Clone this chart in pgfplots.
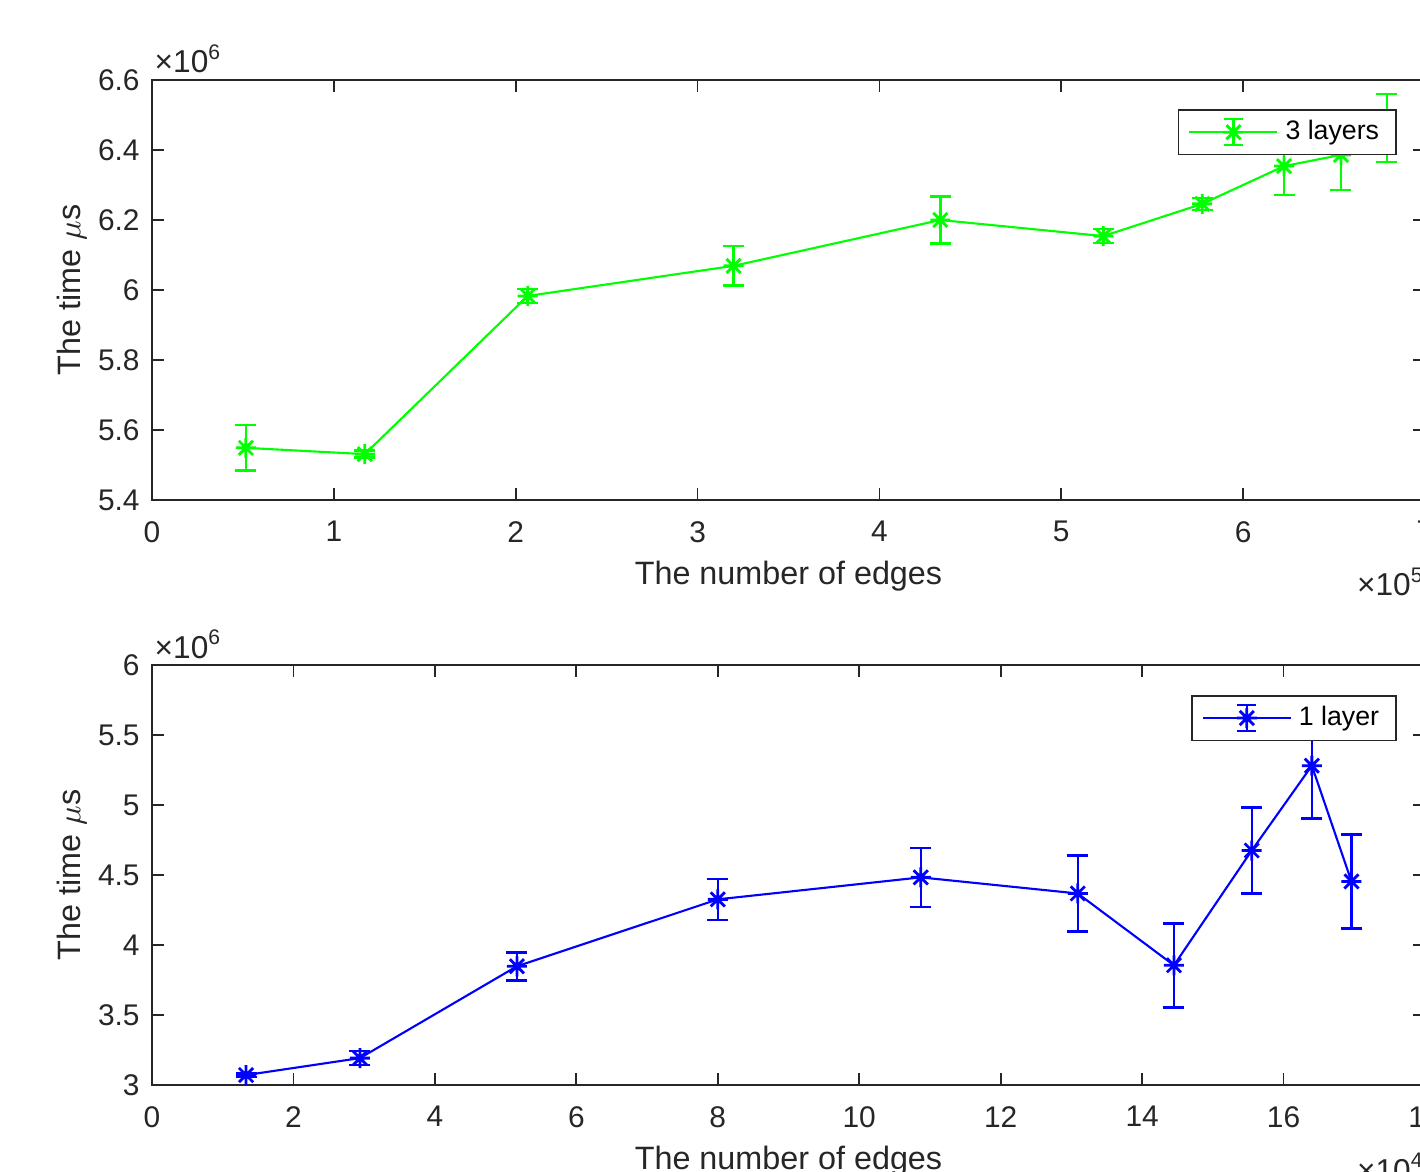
\documentclass[border=0pt]{standalone}
\usepackage{fontspec}
\setmainfont{Liberation Sans}
\usepackage{pgfplots}
\pgfplotsset{compat=1.18}

% matlab style asterisk: eight arms
\pgfdeclareplotmark{mstar}{%
  \pgfpathmoveto{\pgfqpoint{-\pgfplotmarksize}{0pt}}\pgfpathlineto{\pgfqpoint{\pgfplotmarksize}{0pt}}%
  \pgfpathmoveto{\pgfqpoint{0pt}{-\pgfplotmarksize}}\pgfpathlineto{\pgfqpoint{0pt}{\pgfplotmarksize}}%
  \pgfpathmoveto{\pgfqpoint{-0.707\pgfplotmarksize}{-0.707\pgfplotmarksize}}\pgfpathlineto{\pgfqpoint{0.707\pgfplotmarksize}{0.707\pgfplotmarksize}}%
  \pgfpathmoveto{\pgfqpoint{-0.707\pgfplotmarksize}{0.707\pgfplotmarksize}}\pgfpathlineto{\pgfqpoint{0.707\pgfplotmarksize}{-0.707\pgfplotmarksize}}%
  \pgfusepathqstroke}

\definecolor{axgray}{gray}{0.15}

\pgfplotsset{
  mlab/.style={
    scale only axis, width=12.73cm, height=4.20cm,
    axis line style={axgray, line width=0.5pt},
    tick style={axgray, line width=0.5pt},
    tick align=inside, major tick length=1.2mm,
    xtick pos=both, ytick pos=both,
    ticklabel style={font=\fontsize{8.5}{10}\selectfont, text=axgray},
    xticklabel style={yshift=-0.9mm},
    label style={font=\fontsize{9.2}{11}\selectfont, text=axgray},
    xlabel style={yshift=0.6mm},
    ylabel style={at={(axis description cs:-0.063,0.5)}, anchor=center},
    /pgf/number format/assume math mode=true,
    xlabel={The number of edges},
    ylabel={The time $\mu$s},
    every y tick scale label/.style={at={(rel axis cs:0,1)}, anchor=base west, xshift=0.2mm, yshift=0.7mm, inner sep=0pt, font=\fontsize{9}{10}\selectfont, text=axgray},
    every x tick scale label/.style={at={(rel axis cs:1,0)}, anchor=base east, yshift=-8.7mm, inner sep=0pt, font=\fontsize{9}{10}\selectfont, text=axgray},
    legend style={anchor=north east, draw=axgray, line width=0.5pt, fill=white,
      font=\fontsize{7.6}{9}\selectfont, inner xsep=1mm, inner ysep=0.3mm},
    legend cell align=left,
    legend image code/.code={%
      \draw[#1] (0cm,0cm) -- (0.88cm,0cm);
      \draw[#1] (0.44cm,-0.13cm) -- (0.44cm,0.13cm)
        (0.345cm,-0.13cm) -- (0.535cm,-0.13cm) (0.345cm,0.13cm) -- (0.535cm,0.13cm);
      \draw[mark repeat=2, mark phase=2, #1] plot coordinates {(0cm,0cm) (0.44cm,0cm) (0.88cm,0cm)};
    },
    error bars/y dir=both, error bars/y explicit,
    error bars/error mark options={rotate=90, mark size=1.05mm, line width=0.7pt},
    error bars/error bar style={line width=0.7pt},
  },
}

\begin{document}
\begin{tikzpicture}
\useasboundingbox (0,0) rectangle (14.2cm,11.72cm);
\clip (0,0) rectangle (14.2cm,11.72cm);

\begin{axis}[mlab, at={(1.52cm,6.72cm)},
  xmin=0, xmax=700000, ymin=5400000, ymax=6600000,
  xtick={0,100000,...,700000}, ytick={5400000,5600000,...,6600000},
  scaled x ticks=base 10:-5, scaled y ticks=base 10:-6,
  xtick scale label code/.code={×10\textsuperscript{5}},
  ytick scale label code/.code={×10\textsuperscript{6}},
  legend style={at={(rel axis cs:0.978,0.931)}},
]
\addplot[green, line width=0.6pt, mark=mstar, mark size=1mm, mark options={solid, line width=0.8pt}]
  coordinates {
  (51600,5549000) +- (0,65000)
  (117000,5531000) +- (0,10000)
  (206600,5983000) +- (0,20000)
  (319800,6069000) +- (0,56000)
  (433500,6200000) +- (0,67000)
  (523100,6154000) +- (0,20000)
  (577500,6246000) +- (0,17000)
  (622500,6354000) +- (0,83000)
  (653800,6386000) +- (0,100000)
  (679100,6463000) +- (0,97000)
  };
\addlegendentry{3 layers}
\end{axis}

\begin{axis}[mlab, at={(1.52cm,0.87cm)},
  xmin=0, xmax=180000, ymin=3000000, ymax=6000000,
  xtick={0,20000,...,180000}, ytick={3000000,3500000,...,6000000},
  scaled x ticks=base 10:-4, scaled y ticks=base 10:-6,
  xtick scale label code/.code={×10\textsuperscript{4}},
  ytick scale label code/.code={×10\textsuperscript{6}},
  legend style={at={(rel axis cs:0.978,0.929)}},
]
\addplot[blue, line width=0.6pt, mark=mstar, mark size=1mm, mark options={solid, line width=0.8pt}]
  coordinates {
  (13300,3071000) +- (0,12000)
  (29400,3192000) +- (0,50000)
  (51600,3848000) +- (0,100000)
  (80000,4326000) +- (0,146000)
  (108700,4483000) +- (0,210000)
  (130900,4368000) +- (0,270000)
  (144500,3855000) +- (0,300000)
  (155500,4675000) +- (0,306000)
  (164000,5281000) +- (0,378000)
  (169600,4454000) +- (0,335000)
  };
\addlegendentry{1 layer}
\end{axis}
\end{tikzpicture}
\end{document}
